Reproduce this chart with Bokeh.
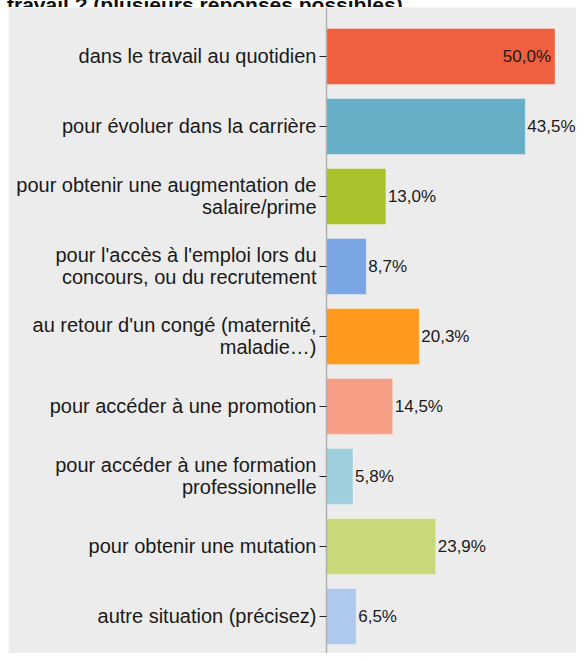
from bokeh.plotting import figure
from bokeh.models import Range1d, FixedTicker, ColumnDataSource, Div
from bokeh.layouts import column
from bokeh.core.properties import value
from bokeh.embed import file_html
from bokeh.resources import INLINE

title_text = "travail ? (plusieurs réponses possibles)"
categories = [
    "dans le travail au quotidien",
    "pour évoluer dans la carrière",
    "pour obtenir une augmentation de\nsalaire/prime",
    "pour l'accès à l'emploi lors du\nconcours, ou du recrutement",
    "au retour d'un congé (maternité,\nmaladie…)",
    "pour accéder à une promotion",
    "pour accéder à une formation\nprofessionnelle",
    "pour obtenir une mutation",
    "autre situation (précisez)",
]
values = [50.0, 43.5, 13.0, 8.7, 20.3, 14.5, 5.8, 23.9, 6.5]
colors = ["#F0603F", "#67AFC6", "#A9C22B", "#7AA6E6", "#FF9A1E",
          "#F79F86", "#9ECFDC", "#C7D97A", "#AFC8EE"]

BG = "#ECECEC"
FONT = "Liberation Sans"

ypos = list(range(len(categories)))
labels = [("%.1f" % v).replace(".", ",") + "%" for v in values]
inside = [v >= 45 for v in values]
src = ColumnDataSource(dict(
    y=ypos, v=values, c=colors, lbl=labels,
    xo=[-4 if i else 2 for i in inside],
    al=["right" if i else "left" for i in inside],
))

p = figure(width=568, height=646,
           x_range=Range1d(0, 54.70), y_range=Range1d(8.53, -0.70),
           output_backend="svg", toolbar_location=None,
           min_border_left=318, min_border_right=0,
           min_border_top=0, min_border_bottom=0,
           margin=(0, 0, 0, 8))
p.background_fill_color = BG
p.border_fill_color = BG
p.outline_line_color = None
p.xaxis.visible = False
p.xgrid.visible = False
p.ygrid.visible = False

p.hbar(y="y", left=0, right="v", height=0.8, fill_color="c",
       line_color="white", line_alpha=0.35, line_width=1, source=src)

p.text(x="v", y="y", text="lbl", x_offset="xo", text_align="al",
       text_baseline="middle", text_font=value(FONT),
       text_font_size="17px", text_color="#1a1a1a", source=src)

ax = p.yaxis[0]
ax.ticker = FixedTicker(ticks=ypos)
ax.major_label_overrides = {i: c for i, c in zip(ypos, categories)}
ax.major_label_text_font = FONT
ax.major_label_text_font_size = "20px"
ax.major_label_text_color = "#1a1a1a"
ax.major_label_text_line_height = 1.0
ax.major_label_standoff = 3
ax.major_tick_out = 7
ax.major_tick_in = 0
ax.major_tick_line_color = "#222222"
ax.minor_tick_line_color = None
ax.axis_line_color = "#B0B0B0"
ax.axis_line_width = 1.5

title = Div(
    text=('<div style="margin-top:-14px;padding-left:7px;font-weight:bold;'
          'font-size:21px;font-family:\'Liberation Sans\';white-space:nowrap;'
          'color:#111;">' + title_text + '</div>'),
    width=576, height=7, margin=(0, 0, 0, 0),
    styles={"overflow": "hidden"})

layout = column(title, p, spacing=0)
open("out.html", "w").write(file_html(layout, INLINE))
